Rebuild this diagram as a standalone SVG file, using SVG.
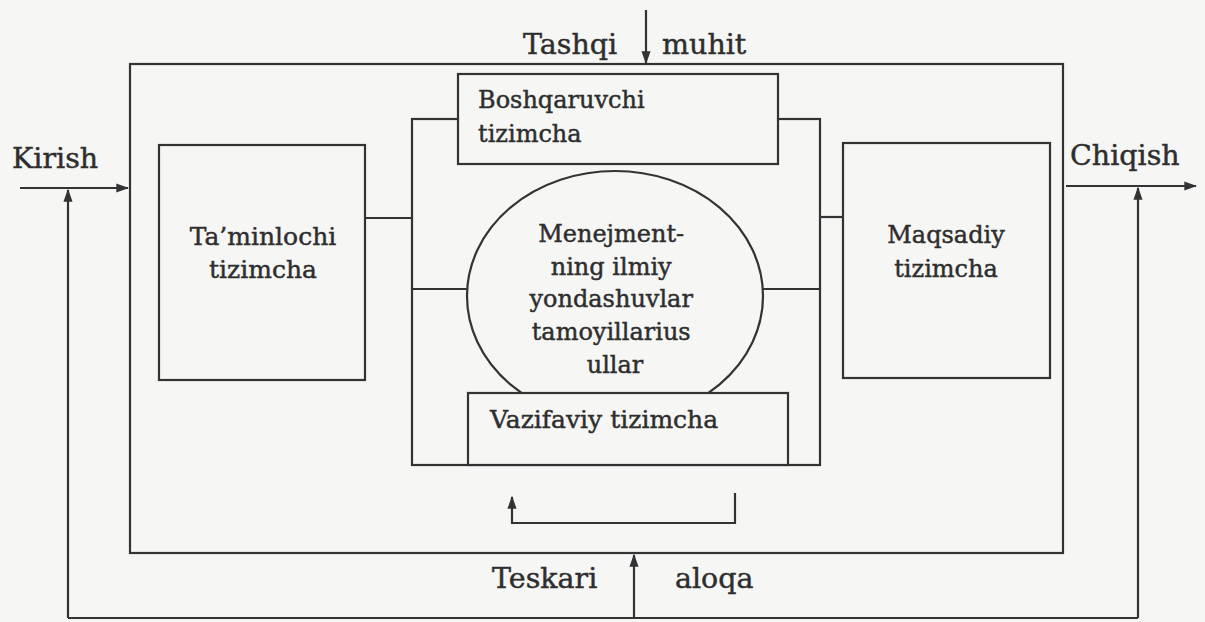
<svg xmlns="http://www.w3.org/2000/svg" width="1205" height="622" viewBox="0 0 1205 622">
<style>
.ln{fill:none;stroke:#333;stroke-width:2.2}
.bx{fill:#f6f6f4;stroke:#333;stroke-width:2.2}
.t{font-family:"DejaVu Serif","Liberation Serif",serif;fill:#2e2e2e;stroke:#2e2e2e;stroke-width:0.45}
.lg{font-size:28.5px}
.sm{font-size:24px}
.md{font-size:25px}
</style>
<defs>
<marker id="ah2" viewBox="0 0 10 10" refX="9" refY="5" markerWidth="13" markerHeight="13" orient="auto" markerUnits="userSpaceOnUse">
<path d="M0,1.5 L10,5 L0,8.5 z" fill="#333"/>
</marker>
</defs>
<rect x="0" y="0" width="1205" height="622" fill="#f6f6f4"/>

<g id="outer">
<rect class="ln" x="130" y="64" width="933" height="489"/>
</g>

<g id="inner-frame">
<rect class="ln" x="412" y="119" width="408" height="346"/>
<line class="ln" x1="412" y1="289" x2="470" y2="289"/>
<line class="ln" x1="760" y1="289" x2="820" y2="289"/>
</g>

<g id="center">
<ellipse class="bx" cx="615" cy="296" rx="148" ry="125"/>
<text class="t sm" text-anchor="middle">
<tspan x="615" y="242">Menejment-</tspan>
<tspan x="615" y="275">ning ilmiy</tspan>
<tspan x="615" y="307">yondashuvlar</tspan>
<tspan x="615" y="340">tamoyillarius</tspan>
<tspan x="615" y="373">ullar</tspan>
</text>
</g>

<g id="boshqaruvchi">
<rect class="bx" x="458" y="74" width="320" height="90"/>
<text class="t sm"><tspan x="478" y="108">Boshqaruvchi</tspan><tspan x="478" y="142">tizimcha</tspan></text>
</g>

<g id="vazifaviy">
<rect class="bx" x="468" y="393" width="320" height="72"/>
<text class="t md" x="490" y="428">Vazifaviy tizimcha</text>
</g>

<g id="taminlochi">
<rect class="bx" x="159" y="145" width="206" height="235"/>
<text class="t md" text-anchor="middle"><tspan x="263" y="245">Ta’minlochi</tspan><tspan x="263" y="278">tizimcha</tspan></text>
</g>

<g id="maqsadiy">
<rect class="bx" x="843" y="143" width="207" height="235"/>
<text class="t sm" text-anchor="middle"><tspan x="946" y="243">Maqsadiy</tspan><tspan x="946" y="277">tizimcha</tspan></text>
</g>

<g id="connectors">
<line class="ln" x1="365" y1="218" x2="412" y2="218"/>
<line class="ln" x1="820" y1="217" x2="843" y2="217"/>
<line class="ln" x1="646" y1="10" x2="646" y2="63" marker-end="url(#ah2)"/>
<line class="ln" x1="20" y1="188" x2="128" y2="188" marker-end="url(#ah2)"/>
<line class="ln" x1="1066" y1="186" x2="1196" y2="186" marker-end="url(#ah2)"/>
<polyline class="ln" points="68,618 1138,618"/>
<line class="ln" x1="68" y1="618" x2="68" y2="190" marker-end="url(#ah2)"/>
<line class="ln" x1="1138" y1="618" x2="1138" y2="188" marker-end="url(#ah2)"/>
<line class="ln" x1="634" y1="618" x2="634" y2="555" marker-end="url(#ah2)"/>
<polyline class="ln" points="735,493 735,523 512,523 512,497" marker-end="url(#ah2)"/>
</g>

<g id="labels">
<text class="t lg" x="12" y="168">Kirish</text>
<text class="t lg" x="1070" y="165">Chiqish</text>
<text class="t lg" x="523" y="54">Tashqi</text>
<text class="t lg" x="662" y="54">muhit</text>
<text class="t lg" x="492" y="588">Teskari</text>
<text class="t lg" x="675" y="588">aloqa</text>
</g>
</svg>
